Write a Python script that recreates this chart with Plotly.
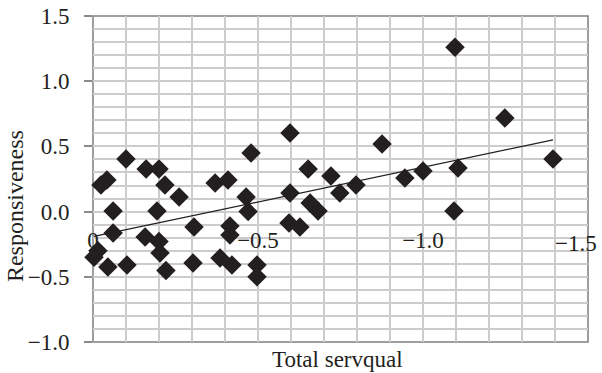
import numpy as np
import plotly.graph_objects as go

# Data
total_servqual = [
    -1.097, -1.248, -1.394, -1.106, -1.000, -0.945, -1.094, -0.876,
    -0.597, -0.652, -0.721, -0.797, -0.748, -0.597, -0.658, -0.682,
    -0.594, -0.627, -0.479, -0.370, -0.409, -0.464, -0.470, -0.306,
    -0.415, -0.415, -0.303, -0.385, -0.421, -0.497, -0.497, -0.100,
    -0.024, -0.042, -0.161, -0.200, -0.218, -0.261, -0.061, -0.194,
    -0.061, -0.158, -0.200, -0.203, -0.015, -0.003, -0.045, -0.103,
    -0.221,
]
responsiveness = [
    1.260, 0.717, 0.403, 0.334, 0.311, 0.258, 0.005, 0.518,
    0.603, 0.327, 0.273, 0.204, 0.143, 0.143, 0.066, 0.005,
    -0.087, -0.118, 0.449, 0.219, 0.242, 0.112, 0.000, -0.118,
    -0.110, -0.180, -0.394, -0.356, -0.410, -0.410, -0.500, 0.403,
    0.204, 0.242, 0.327, 0.327, 0.204, 0.112, 0.005, 0.005,
    -0.164, -0.195, -0.230, -0.317, -0.300, -0.350, -0.425, -0.410,
    -0.452,
]

x_tick_vals = [0, -0.5, -1.0]
x_tick_text = ["0", "\u22120.5", "\u22121.0"]
x_last_tick_text = "\u22121.5"   # drawn inside the edge, as in the reference
y_tick_vals = [-1.0, -0.5, 0.0, 0.5, 1.0, 1.5]
y_tick_text = ["\u22121.0", "\u22120.5", "0.0", "0.5", "1.0", "1.5"]

x_title = "Total servqual"
y_title = "Responsiveness"

# Linear trendline (least squares) over the data range
slope, intercept = np.polyfit(total_servqual, responsiveness, 1)
trend_x = np.array([max(total_servqual), min(total_servqual)])
trend_y = intercept + slope * trend_x

FONT = "Liberation Serif, Times New Roman, serif"
TEXT = "#231f20"
GRID = "#cccccc"

fig = go.Figure()
fig.add_trace(go.Scatter(
    x=total_servqual, y=responsiveness, mode="markers",
    marker=dict(symbol="diamond", size=15, color="#231f20", line=dict(width=0)),
    cliponaxis=False, showlegend=False, hoverinfo="skip",
))
fig.add_trace(go.Scatter(
    x=trend_x, y=trend_y, mode="lines",
    line=dict(color="#231f20", width=1.3),
    showlegend=False, hoverinfo="skip",
))

fig.update_layout(
    width=602, height=373,
    margin=dict(l=93, r=14, t=16, b=31),
    paper_bgcolor="white", plot_bgcolor="white",
    font=dict(family=FONT, size=23, color=TEXT),
    xaxis=dict(
        range=[0, -1.5], tickvals=x_tick_vals, ticktext=x_tick_text,
        showgrid=True, gridcolor=GRID, gridwidth=1.5,
        minor=dict(tick0=0, dtick=0.1, showgrid=True, gridcolor=GRID, gridwidth=1.5),
        zeroline=False, showline=False, ticks="",
        anchor="free", position=0.4, ticklabelstandoff=12,
        automargin=False,
        tickfont=dict(family=FONT, size=23, color=TEXT),
    ),
    yaxis=dict(
        range=[-1.0, 1.5], tickvals=y_tick_vals, ticktext=y_tick_text,
        showgrid=True, gridcolor=GRID, gridwidth=1.5,
        minor=dict(tick0=0, dtick=0.1, showgrid=True, gridcolor=GRID, gridwidth=1.5),
        zeroline=False, showline=False,
        ticks="outside", ticklen=8, tickcolor="#8a8a8a", tickwidth=1.5,
        ticklabelstandoff=10, automargin=False,
        tickfont=dict(family=FONT, size=23, color=TEXT),
    ),
    shapes=[dict(type="rect", xref="paper", yref="paper", x0=0, x1=1, y0=0, y1=1,
                 line=dict(color="#7f7f7f", width=1.5), layer="below")],
    annotations=[
        dict(text=x_last_tick_text, xref="paper", yref="paper", x=1, y=0.4,
             xanchor="right", yanchor="top", xshift=11, yshift=-17, showarrow=False,
             font=dict(family=FONT, size=23, color=TEXT)),
        dict(text=x_title, xref="paper", yref="paper", x=0.493, y=0,
             xanchor="center", yanchor="top", yshift=-3, showarrow=False,
             font=dict(family=FONT, size=23, color=TEXT)),
        dict(text=y_title, xref="paper", yref="paper", x=0, y=0.417,
             xanchor="center", yanchor="middle", xshift=-78, textangle=-90,
             showarrow=False, font=dict(family=FONT, size=24, color=TEXT)),
    ],
)

fig.write_html("out.html")
